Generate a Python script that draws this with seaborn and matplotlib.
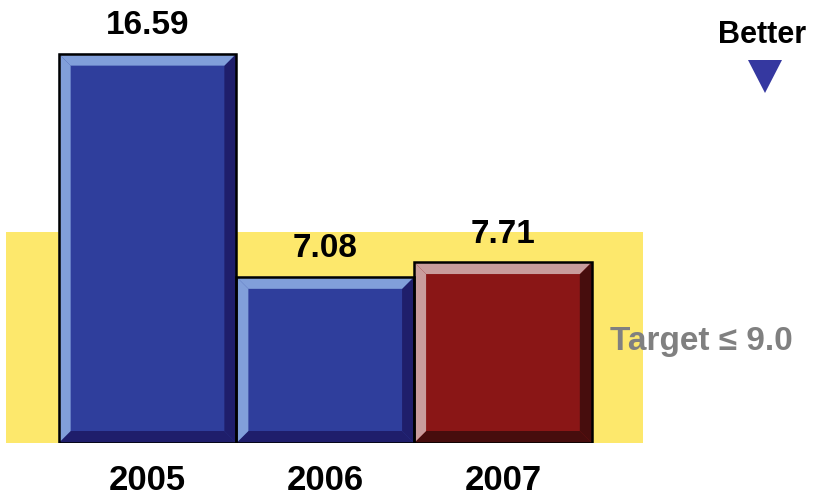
import numpy as np
import pandas as pd
from matplotlib import pyplot as plt
from matplotlib.patches import Polygon, Rectangle
import seaborn as sns

years = ['2005', '2006', '2007']
values = [16.59, 7.08, 7.71]
target = 9.0
target_label = 'Target \u2264 9.0'

face_colors = ['#2F3E9C', '#2F3E9C', '#8A1616']
light_colors = ['#819FDA', '#819FDA', '#C99C9C']
dark_colors = ['#1F1E6B', '#1F1E6B', '#470D0D']

sns.set_theme()
sns.set_style("white")
plt.rcParams['font.family'] = ['Liberation Sans', 'DejaVu Sans']

W, H = 820, 498
fig = plt.figure(figsize=(W / 100, H / 100), dpi=100)
ax = fig.add_axes([0, 55 / H, 1, 443 / H])

df = pd.DataFrame({'year': years, 'value': values})
sns.barplot(data=df, x='year', y='value', hue='year', palette=face_colors,
            width=1, saturation=1, legend=False, ax=ax, linewidth=0, zorder=2)

ax.set_xlim(-0.830, 3.784)
ax.set_ylim(0, 18.875)

# yellow target band behind the bars
ax.fill_between([-0.796, 2.788], 0, target, color='#FDE86C', lw=0, zorder=1)

# bevel size: 12 px converted to data units
p0 = ax.transData.transform((0, 0))
p1 = ax.transData.transform((1, 1))
bev = 12
dx = bev / (p1[0] - p0[0])
dy = bev / (p1[1] - p0[1])

for i, patch in enumerate(ax.patches[:len(values)]):
    x0 = patch.get_x()
    x1 = x0 + patch.get_width()
    y0 = patch.get_y()
    y1 = y0 + patch.get_height()
    top = [(x0, y1), (x1, y1), (x1 - dx, y1 - dy), (x0 + dx, y1 - dy)]
    left = [(x0, y0), (x0, y1), (x0 + dx, y1 - dy), (x0 + dx, y0 + dy)]
    right = [(x1, y1), (x1, y0), (x1 - dx, y0 + dy), (x1 - dx, y1 - dy)]
    bottom = [(x0, y0), (x1, y0), (x1 - dx, y0 + dy), (x0 + dx, y0 + dy)]
    for pts, c in [(right, dark_colors[i]), (bottom, dark_colors[i]),
                   (top, light_colors[i]), (left, light_colors[i])]:
        ax.add_patch(Polygon(pts, closed=True, fc=c, ec='none', zorder=3))
    ax.add_patch(Rectangle((x0, y0), x1 - x0, y1 - y0, fill=False,
                           ec='black', lw=1.8, zorder=4))
    ax.annotate(f'{values[i]:.2f}', xy=((x0 + x1) / 2, y1), xytext=(0, 14),
                textcoords='offset points', ha='center', va='baseline',
                fontsize=24, fontweight='bold', color='black',
                annotation_clip=False)

ax.set_xlabel('')
ax.set_ylabel('')
ax.set_yticks([])
ax.set_xticks(range(len(years)))
ax.set_xticklabels(years, fontsize=25, fontweight='bold', color='black')
ax.tick_params(axis='x', length=0, pad=15)
for s in ax.spines.values():
    s.set_visible(False)
ax.set_facecolor('white')

# "Better" direction marker
fig.text(762 / W, 1 - 43 / H, 'Better', ha='center', va='baseline',
         fontsize=22, fontweight='bold', color='black')
tri = [(748 / W, 1 - 60 / H), (782 / W, 1 - 60 / H), (765 / W, 1 - 93 / H)]
fig.add_artist(Polygon(tri, closed=True, fc='#3538A0', ec='none',
                       transform=fig.transFigure))

fig.text(701 / W, 1 - 350 / H, target_label, ha='center', va='baseline',
         fontsize=24, fontweight='bold', color='#808080')

fig.savefig('out.png', dpi=100)
